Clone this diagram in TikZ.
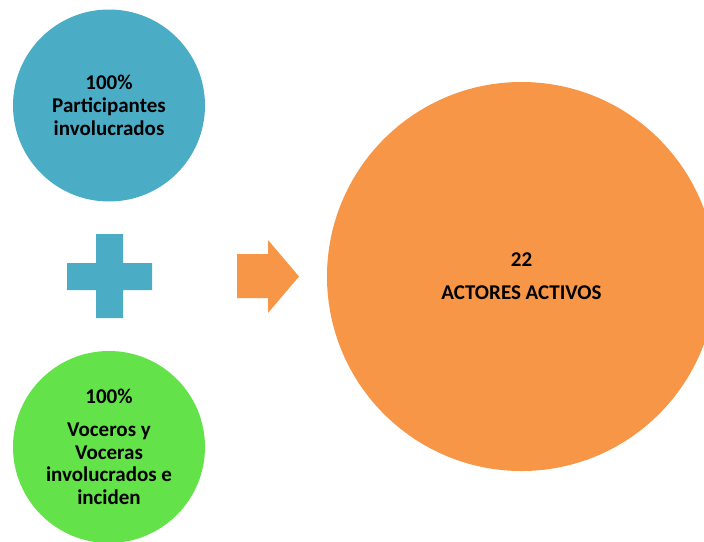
\documentclass[tikz,border=0pt]{standalone}
\usepackage{fontspec}
\setmainfont{Carlito}
\definecolor{cblue}{HTML}{4BACC6}
\definecolor{cgreen}{HTML}{63E24A}
\definecolor{corange}{HTML}{F79646}
\begin{document}
\begin{tikzpicture}[x=1pt,y=-1pt,
  bubble/.style={circle,inner sep=0pt,align=center,text=black,
    font=\bfseries\fontsize{21}{22.8}\selectfont}]
\useasboundingbox (0,0) rectangle (704,541);
\clip (0,0) rectangle (704,541);
\node[bubble,fill=cblue,minimum size=192pt] (blue) at (109,105.5)
  {100\%\\Participantes\\involucrados};
\node[bubble,fill=cgreen,minimum size=192pt] (green) at (109,447)
  {100\%\\[10pt]Voceros y\\Voceras\\involucrados e\\inciden};
\node[bubble,fill=corange,minimum size=389pt] (orange) at (521.5,276.5)
  {22\\[10pt]ACTORES ACTIVOS};
% plus sign
\fill[cblue] (96,234) -- (123,234) -- (123,263) -- (152,263) -- (152,290)
  -- (123,290) -- (123,318) -- (96,318) -- (96,290) -- (67,290) -- (67,263)
  -- (96,263) -- cycle;
% arrow
\fill[corange] (237,254) -- (268,254) -- (268,240) -- (299,276.5)
  -- (268,313) -- (268,298) -- (237,298) -- cycle;
\end{tikzpicture}
\end{document}
